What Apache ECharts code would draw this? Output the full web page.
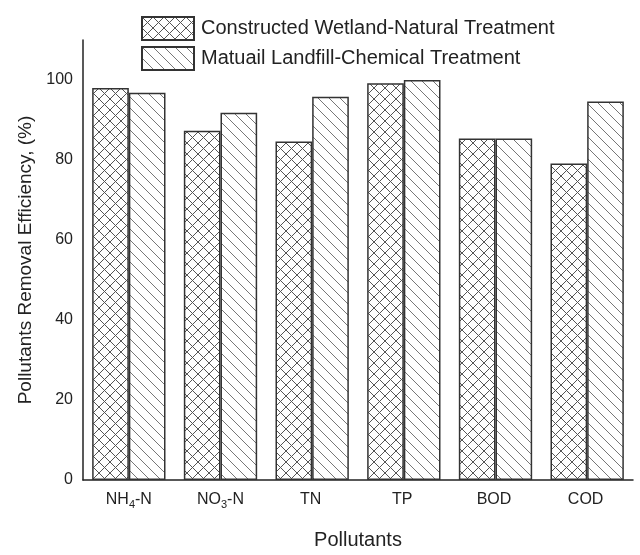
<!DOCTYPE html>
<html>
<head>
<meta charset="utf-8">
<script src="https://cdn.jsdelivr.net/npm/echarts@6/dist/echarts.min.js"></script>
<style>
  html, body { margin: 0; padding: 0; background: #fff; }
  #chart { width: 640px; height: 555px; }
</style>
</head>
<body>
<div id="chart"></div>
<script>
// data
var pollutants = ['NH4-N', 'NO3-N', 'TN', 'TP', 'BOD', 'COD'];
var wetland = [98.0, 87.3, 84.6, 99.2, 85.4, 79.1];
var landfill = [96.8, 91.8, 95.8, 100, 85.4, 94.6];
var seriesNames = ['Constructed Wetland-Natural Treatment', 'Matuail Landfill-Chemical Treatment'];

// hatch tiles
function hatch(cross) {
    var s = 11;
    var c = document.createElement('canvas');
    c.width = s; c.height = s;
    var ctx = c.getContext('2d');
    ctx.fillStyle = '#fff';
    ctx.fillRect(0, 0, s, s);
    ctx.strokeStyle = cross ? '#555' : '#777';
    ctx.lineWidth = 1;
    ctx.beginPath();
    ctx.moveTo(-1, -1); ctx.lineTo(s + 1, s + 1);
    if (cross) {
        ctx.moveTo(s + 1, -1); ctx.lineTo(-1, s + 1);
    }
    ctx.stroke();
    return c;
}

var chart = echarts.init(document.getElementById('chart'), null, {renderer: 'canvas'});

var font = 'Liberation Sans, Arial, sans-serif';

option = {
    backgroundColor: '#fff',
    animation: false,
    textStyle: {fontFamily: font, color: '#222'},
    legend: {
        orient: 'vertical',
        left: 136,
        top: 11,
        icon: 'rect',
        itemWidth: 52,
        itemHeight: 23,
        itemGap: 5,
        textStyle: {fontSize: 20, color: '#222', fontFamily: font, padding: [0, 0, 0, 2]},
        data: seriesNames
    },
    grid: {left: 83, right: 7, top: 40, bottom: 68, containLabel: false},
    xAxis: {
        type: 'category',
        data: pollutants,
        name: 'Pollutants',
        nameLocation: 'middle',
        nameGap: 50,
        nameTextStyle: {fontSize: 20, color: '#222', fontFamily: font},
        axisLine: {lineStyle: {color: '#222', width: 1.5}},
        axisTick: {show: false},
        axisLabel: {
            interval: 0,
            fontSize: 16,
            color: '#222',
            margin: 10,
            formatter: function (v) {
                // every label gets a (possibly blank) subscript so all sit on one line
                if (v === 'NH4-N') return 'NH{sub|4}-N';
                if (v === 'NO3-N') return 'NO{sub|3}-N';
                return v + '{sub| }';
            },
            rich: {
                sub: {fontSize: 11, color: '#222', fontFamily: font, padding: [9, 0, 0, 0]}
            }
        }
    },
    yAxis: {
        type: 'value',
        min: 0,
        max: 110,
        interval: 20,
        name: 'Pollutants Removal Efficiency, (%)',
        nameLocation: 'middle',
        nameGap: 48,
        nameTextStyle: {fontSize: 19, color: '#222', fontFamily: font},
        axisLine: {show: true, lineStyle: {color: '#222', width: 1.5}},
        axisTick: {show: false},
        splitLine: {show: false},
        axisLabel: {
            fontSize: 16,
            color: '#222',
            margin: 10,
            formatter: function (v) { return v > 100 ? '' : v; }
        }
    },
    series: [
        {
            name: seriesNames[0],
            type: 'bar',
            data: wetland,
            barGap: '0%',
            barCategoryGap: '20%',
            itemStyle: {
                color: {image: hatch(true), repeat: 'repeat'},
                borderColor: '#333',
                borderWidth: 1.5
            }
        },
        {
            name: seriesNames[1],
            type: 'bar',
            data: landfill,
            barGap: '0%',
            barCategoryGap: '20%',
            itemStyle: {
                color: {image: hatch(false), repeat: 'repeat'},
                borderColor: '#333',
                borderWidth: 1.5
            }
        }
    ]
};
chart.setOption(option);
</script>
</body>
</html>
